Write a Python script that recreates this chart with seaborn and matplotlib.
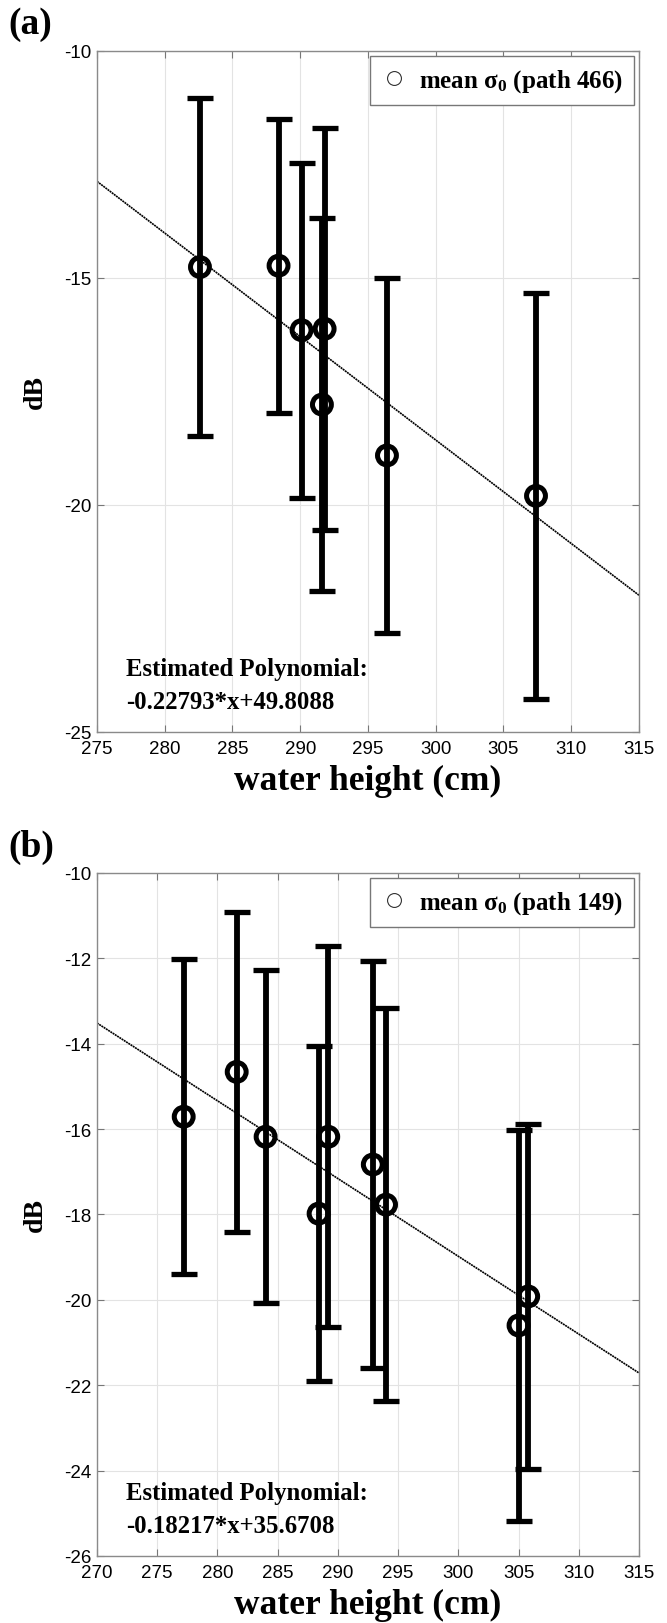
import numpy as np
import matplotlib
matplotlib.use("Agg")
import matplotlib.pyplot as plt
import seaborn as sns
from matplotlib.lines import Line2D

# ---- data: panel (a) path 466 ----
a_x = [282.6, 288.4, 290.1, 291.8, 291.6, 296.4, 307.4]
a_mean = [-14.76, -14.73, -16.15, -16.12, -17.79, -18.91, -19.80]
a_err = [3.72, 3.24, 3.69, 4.43, 4.10, 3.91, 4.47]
a_coef = [-0.22793, 49.8088]
a_xticks = [275, 280, 285, 290, 295, 300, 305, 310, 315]
a_yticks = [-25, -20, -15, -10]

# ---- data: panel (b) path 149 ----
b_x = [277.2, 281.6, 284.0, 288.4, 289.2, 292.9, 294.0, 305.0, 305.8]
b_mean = [-15.71, -14.66, -16.18, -17.98, -16.18, -16.83, -17.77, -20.60, -19.92]
b_err = [3.69, 3.74, 3.90, 3.93, 4.46, 4.76, 4.60, 4.57, 4.05]
b_coef = [-0.18217, 35.6708]
b_xticks = [270, 275, 280, 285, 290, 295, 300, 305, 310, 315]
b_yticks = [-26, -24, -22, -20, -18, -16, -14, -12, -10]

sns.set_theme(style="whitegrid")
plt.rcParams['font.family'] = ['Liberation Sans', 'DejaVu Sans']
plt.rcParams['text.color'] = 'black'
plt.rcParams['axes.labelcolor'] = 'black'
plt.rcParams['xtick.color'] = 'black'
plt.rcParams['ytick.color'] = 'black'
plt.rcParams['mathtext.fontset'] = 'custom'
plt.rcParams['mathtext.rm'] = 'Liberation Serif:bold'
plt.rcParams['mathtext.it'] = 'Liberation Serif:bold'
plt.rcParams['mathtext.bf'] = 'Liberation Serif:bold'

SERIF = ['Liberation Serif', 'DejaVu Serif']

fig = plt.figure(figsize=(6.67, 16.24), dpi=100)
ax_a = fig.add_axes([0.1454, 0.5487, 0.8126, 0.4193])
ax_b = fig.add_axes([0.1454, 0.04126, 0.8126, 0.4206])


def draw(ax, xs, means, errs, coef, xticks, yticks, path, eq):
    ax.set_facecolor('white')
    ax.errorbar(xs, means, yerr=errs, fmt='none', ecolor='black',
                elinewidth=4.2, capsize=9.5, capthick=3.8, zorder=3)
    sns.scatterplot(x=xs, y=means, ax=ax, marker='o', s=185,
                    facecolor='none', edgecolor='black', linewidth=3.6,
                    zorder=4, legend=False)
    xl = np.array([xticks[0], xticks[-1]], dtype=float)
    ax.plot(xl, np.polyval(coef, xl), color='black', lw=1.2,
            linestyle=(0, (1.2, 0.4)), zorder=2)
    ax.set_xlim(xticks[0], xticks[-1])
    ax.set_ylim(yticks[0], yticks[-1])
    ax.set_xticks(xticks)
    ax.set_yticks(yticks)
    ax.set_xticklabels([str(t) for t in xticks], fontsize=13.5)
    ax.set_yticklabels([str(t) for t in yticks], fontsize=13.5)
    ax.grid(True, color='#e3e3e3', linewidth=0.8)
    ax.tick_params(axis='both', which='both', direction='in', length=5,
                   width=0.8, color='#777777', top=True, right=True,
                   bottom=True, left=True, labelcolor='black')
    ax.tick_params(axis='x', pad=6)
    ax.tick_params(axis='y', pad=4)
    for s in ax.spines.values():
        s.set_visible(True)
        s.set_color('#8a8a8a')
        s.set_linewidth(1.0)
    ax.set_xlabel('water height (cm)', family=SERIF, fontweight='bold',
                  fontsize=25.5, labelpad=5)
    ax.set_ylabel('dB', family=SERIF, fontweight='bold', fontsize=20,
                  labelpad=12)
    h = Line2D([], [], marker='o', linestyle='none', markersize=10,
               markerfacecolor='none', markeredgecolor='#333333',
               markeredgewidth=0.8)
    leg = ax.legend([h], ['mean σ$_0$ (path %s)' % path], loc='upper right',
                    prop={'family': SERIF, 'weight': 'bold', 'size': 18},
                    frameon=True, fancybox=False, borderaxespad=0.2,
                    borderpad=0.45, handlelength=1.0, handletextpad=0.5)
    leg.get_frame().set_edgecolor('#777777')
    leg.get_frame().set_linewidth(1.0)
    leg.get_frame().set_alpha(1)
    ax.text(0.0535, 0.0925, 'Estimated Polynomial:', transform=ax.transAxes,
            family=SERIF, fontweight='bold', fontsize=17.8, va='center',
            ha='left', zorder=5)
    ax.text(0.0535, 0.044, eq, transform=ax.transAxes, family=SERIF,
            fontweight='bold', fontsize=17.8, va='center', ha='left', zorder=5)


draw(ax_a, a_x, a_mean, a_err, a_coef, a_xticks, a_yticks, '466',
     '-0.22793*x+49.8088')
draw(ax_b, b_x, b_mean, b_err, b_coef, b_xticks, b_yticks, '149',
     '-0.18217*x+35.6708')

fig.text(8 / 667, 1 - 24 / 1624, '(a)', family=SERIF, fontweight='bold',
         fontsize=27, ha='left', va='center')
fig.text(8 / 667, 1 - 847 / 1624, '(b)', family=SERIF, fontweight='bold',
         fontsize=27, ha='left', va='center')

fig.savefig('out.png', dpi=100, facecolor='white')
